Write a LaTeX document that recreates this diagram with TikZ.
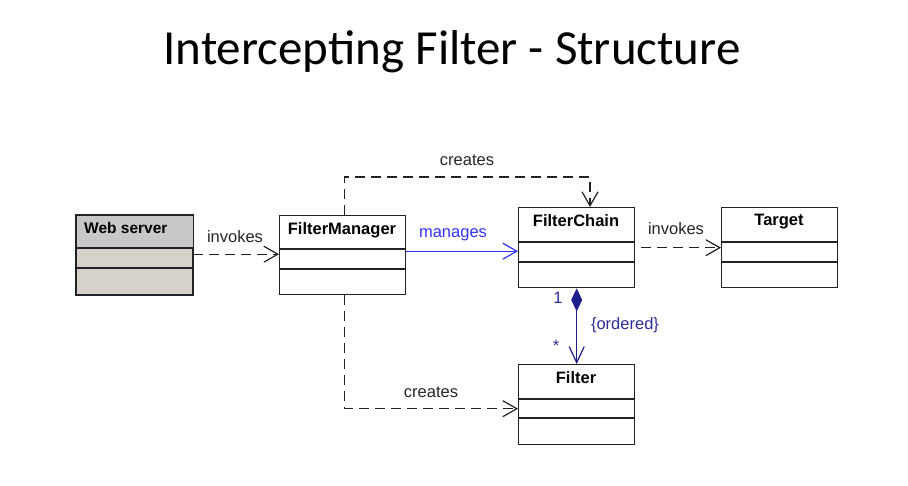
\documentclass[tikz,border=0pt]{standalone}
\usepackage{fontspec}
\setmainfont{Liberation Sans}
\newfontfamily\titlefont{Carlito}
\usetikzlibrary{arrows.meta}
\definecolor{edge}{HTML}{222222}
\definecolor{hdrgray}{HTML}{C8C8C8}
\definecolor{bodygray}{HTML}{D4D2CA}
\definecolor{manblue}{HTML}{3333FF}
\definecolor{navy}{HTML}{1E1E8C}
\definecolor{navytext}{HTML}{2E2E99}
\tikzset{
  cls/.style={draw=edge, line width=1.4pt, fill=white, anchor=north west, inner sep=0pt},
  clstitle/.style={font=\fontsize{16.5}{18}\selectfont\bfseries, anchor=north, inner sep=0pt, text=black},
  lbl/.style={font=\fontsize{16.5}{18}\selectfont, inner sep=0pt, text=black!85},
  openhead/.style={-{Straight Barb[length=14pt,width=16pt,line width=1.2pt]}},
  dep/.style={draw=edge, line width=1.3pt, dash pattern=on 10pt off 6pt, openhead},
  mgr/.style={draw=manblue, line width=1.3pt, openhead},
  comp/.style={draw=navy, line width=1.3pt, {Diamond[length=23pt,width=11pt,fill=navy]}-{Straight Barb[length=16pt,width=15pt,line width=1.2pt]}},
}
\begin{document}
\begin{tikzpicture}[x=1pt,y=-1pt]
\useasboundingbox (0,0) rectangle (908,485);
\fill[white] (0,0) rectangle (908,485);
% title
\node[font=\titlefont\fontsize{49}{53}\selectfont, anchor=base, inner sep=0pt] (title) at (452,64) {Intercepting Filter - Structure};

% Web server
\node[cls, fill=bodygray, minimum width=116pt, minimum height=79pt] (ws) at (76,215) {};
\fill[hdrgray] ([xshift=0.7pt,yshift=-0.7pt]ws.north west) rectangle ([xshift=-0.7pt]ws.north east |- 0,248);
\draw[edge, line width=1.4pt] (ws.north west) rectangle (ws.south east);
\draw[edge, line width=1.4pt] (ws.west |- 0,248) -- (ws.east |- 0,248);
\draw[edge, line width=1.4pt] (ws.west |- 0,268) -- (ws.east |- 0,268);
\node[clstitle, font=\fontsize{15.5}{18}\selectfont\bfseries, anchor=north west] (wst) at (84,222) {Web server};

% FilterManager
\node[cls, minimum width=126pt, minimum height=79pt] (fm) at (279,215) {};
\draw[edge, line width=1.4pt] (fm.west |- 0,249) -- (fm.east |- 0,249);
\draw[edge, line width=1.4pt] (fm.west |- 0,269) -- (fm.east |- 0,269);
\node[clstitle] (fmt) at (342,222) {FilterManager};

% FilterChain
\node[cls, minimum width=116pt, minimum height=80pt] (fc) at (518,207) {};
\draw[edge, line width=1.4pt] (fc.west |- 0,242) -- (fc.east |- 0,242);
\draw[edge, line width=1.4pt] (fc.west |- 0,262) -- (fc.east |- 0,262);
\node[clstitle] (fct) at (576,214) {FilterChain};

% Target
\node[cls, minimum width=116pt, minimum height=80pt] (tg) at (721,207) {};
\draw[edge, line width=1.4pt] (tg.west |- 0,242) -- (tg.east |- 0,242);
\draw[edge, line width=1.4pt] (tg.west |- 0,262) -- (tg.east |- 0,262);
\node[clstitle] (tgt) at (779,214) {Target};

% Filter
\node[cls, minimum width=116pt, minimum height=80pt] (fl) at (518,364) {};
\draw[edge, line width=1.4pt] (fl.west |- 0,399) -- (fl.east |- 0,399);
\draw[edge, line width=1.4pt] (fl.west |- 0,418) -- (fl.east |- 0,418);
\node[clstitle] (flt) at (576,371) {Filter};

% connectors
\draw[dep] ([yshift=1pt]ws.east) -- ([yshift=1pt]fm.west);
\node[lbl] (l1) at (235,237) {invokes};

\coordinate (m1) at ([yshift=4pt]fm.east);
\draw[mgr] (m1) -- (m1 -| fc.west);
\node[lbl, text=manblue] (l2) at (453,235) {manages};

\coordinate (ct) at (590,177);
\draw[dep] ([xshift=2pt]fm.north) |- (ct) -- (ct |- fc.north);
\node[lbl] (l3) at (467,160) {creates};

\draw[dep] ([xshift=6pt]fc.east) -- (tg.west);
\node[lbl] (l4) at (676,229) {invokes};

\draw[comp] (fc.south) -- (fl.north);
\node[lbl, text=navytext] (l5) at (558,298) {1};
\node[lbl, text=navytext] (l6) at (625,325) {\{ordered\}};
\node[lbl, text=navytext] (l7) at (556,346) {*};

\coordinate (cb) at ([yshift=-4pt]fl.west);
\draw[dep] ([xshift=2pt]fm.south) |- (cb);
\node[lbl] (l8) at (431,392) {creates};
\end{tikzpicture}
\end{document}
